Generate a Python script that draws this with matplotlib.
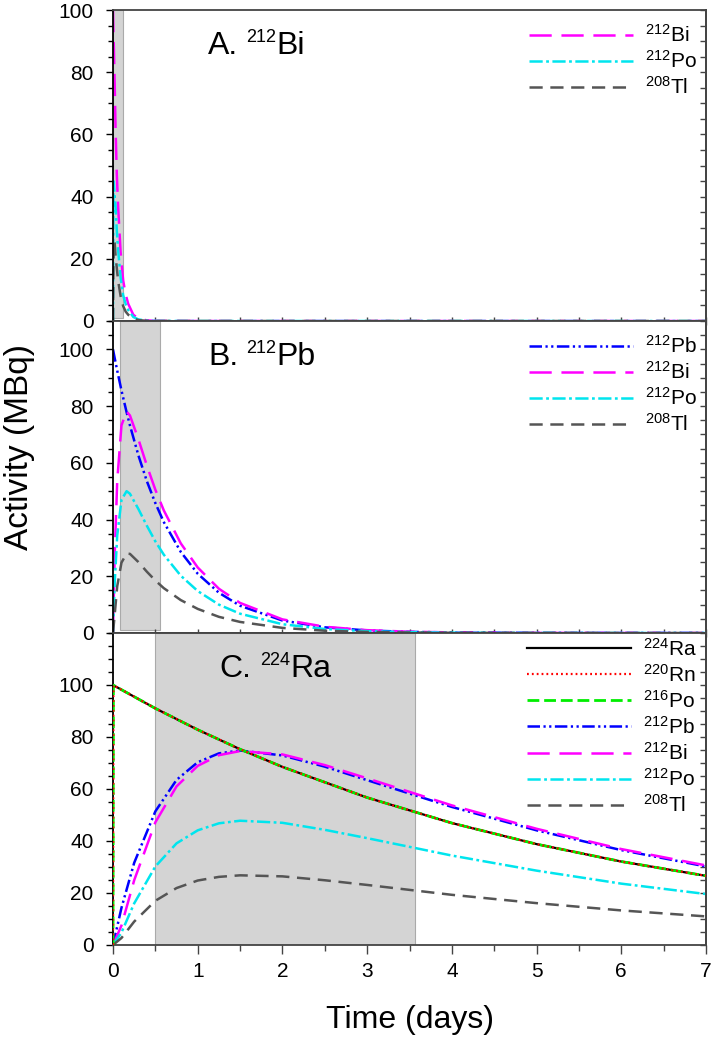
import matplotlib
matplotlib.use("Agg")
import matplotlib.pyplot as plt
from matplotlib.ticker import MultipleLocator, FixedLocator

plt.rcParams['font.family'] = ['Liberation Sans', 'DejaVu Sans']
plt.rcParams['mathtext.default'] = 'regular'
plt.rcParams['lines.scale_dashes'] = False

# ---- data: time (days) vs activity (MBq) ----
# A. 212Bi source
tA = [0, 0.005, 0.01, 0.02, 0.03, 0.045, 0.06, 0.09, 0.12, 0.15, 0.18, 0.24, 0.3, 0.4, 0.5, 1, 2, 3, 4, 5, 6, 7]
a_bi = [100, 93, 88, 76, 62, 47, 37, 22, 13, 8.5, 5.5, 2, 0.8, 0.2, 0.05, 0, 0, 0, 0, 0, 0, 0]
a_po = [0, 45, 44, 40, 37, 29, 23, 14, 8.3, 5.4, 3.5, 1.3, 0.5, 0.1, 0.03, 0, 0, 0, 0, 0, 0, 0]
a_tl = [0, 18, 26, 25, 21, 17, 13, 8, 4.8, 3, 2, 0.8, 0.3, 0.05, 0.02, 0, 0, 0, 0, 0, 0, 0]

# B. 212Pb source
tB = [0, 0.02, 0.05, 0.1, 0.16, 0.2, 0.3, 0.4, 0.5, 0.6, 0.8, 1, 1.25, 1.5, 2, 2.5, 3, 3.5, 4, 5, 6, 7]
b_pb = [100, 96.9, 92.5, 85.5, 77.9, 73.2, 62.6, 53.5, 45.8, 39.1, 28.6, 20.9, 14.2, 9.6, 4.4, 2.0, 0.9, 0.4, 0.2, 0.04, 0.01, 0]
b_bi = [0, 27.6, 53.7, 73.2, 78.1, 76.7, 68.3, 59.0, 50.5, 43.2, 31.6, 23.1, 15.6, 10.6, 4.8, 2.2, 1.0, 0.46, 0.21, 0.04, 0.01, 0]
b_po = [0, 17.7, 34.4, 46.9, 50.0, 49.1, 43.7, 37.8, 32.3, 27.6, 20.2, 14.8, 10.0, 6.8, 3.1, 1.4, 0.64, 0.29, 0.13, 0.03, 0.01, 0]
b_tl = [0, 6.5, 16.5, 24.8, 28.0, 27.9, 25.0, 21.6, 18.5, 15.8, 11.6, 8.5, 5.7, 3.9, 1.8, 0.8, 0.37, 0.17, 0.08, 0.02, 0, 0]

# C. 224Ra source
tC_par = [0, 0.005, 0.5, 1, 1.5, 2, 3, 4, 5, 6, 7]
c_ra = [100, 99.9, 91.0, 82.8, 75.3, 68.5, 56.7, 46.9, 38.8, 32.1, 26.6]
c_rn = [0, 99.9, 91.0, 82.8, 75.3, 68.5, 56.7, 46.9, 38.8, 32.1, 26.6]
c_po216 = [0, 99.9, 91.0, 82.8, 75.3, 68.5, 56.7, 46.9, 38.8, 32.1, 26.6]
tC = [0, 0.1, 0.25, 0.5, 0.75, 1, 1.25, 1.5, 2, 2.5, 3, 4, 5, 6, 7]
c_pb = [0, 14.3, 31.6, 51.4, 63.5, 70.3, 73.7, 74.8, 72.9, 68.6, 63.4, 53.1, 44.1, 36.5, 30.2]
c_bi = [0, 7.5, 24.9, 47.2, 61.0, 68.9, 73.0, 74.6, 73.3, 69.2, 64.1, 53.7, 44.7, 36.9, 30.6]
c_po = [0, 4.8, 16.0, 30.2, 39.1, 44.1, 46.8, 47.8, 47.0, 44.3, 41.1, 34.4, 28.6, 23.6, 19.6]
c_tl = [0, 2.7, 9.0, 17.0, 21.9, 24.8, 26.2, 26.8, 26.4, 24.9, 23.1, 19.3, 16.1, 13.3, 11.0]

bands = [(0.0, 0.12), (0.085, 0.555), (0.49, 3.57)]
ymaxes = [100, 110, 120]
yticks = [0, 20, 40, 60, 80, 100]
titles = [("A.", "212", "Bi"), ("B.", "212", "Pb"), ("C.", "224", "Ra")]

# line styles
sty = {
    'ra': dict(color='black', lw=1.6, ls='-'),
    'rn': dict(color='#ff0000', lw=1.6, dashes=(1.3, 2.2)),
    'po216': dict(color='#00ee00', lw=2.0, dashes=(8.5, 3.5)),
    'pb': dict(color='#0000ff', lw=1.8, dashes=(9, 2.5, 1.6, 2.5, 1.6, 2.5)),
    'bi': dict(color='#ff00ff', lw=1.8, dashes=(16, 7)),
    'po': dict(color='#00e5ee', lw=1.8, dashes=(9.5, 2.5, 2, 2.5)),
    'tl': dict(color='#555555', lw=1.8, dashes=(9.5, 5.5)),
}


def lbl(mass, el):
    return r"$^{%s}$%s" % (mass, el)


fig = plt.figure(figsize=(7.13, 10.44), dpi=100)
L, W = 113 / 713, 593 / 713
axA = fig.add_axes([L, 1 - 321 / 1044, W, 311 / 1044])
axB = fig.add_axes([L, 1 - 633 / 1044, W, 312 / 1044])
axC = fig.add_axes([L, 1 - 945 / 1044, W, 312 / 1044])
axes = [axA, axB, axC]

axA.plot(tA, a_bi, label=lbl(212, 'Bi'), **sty['bi'])
axA.plot(tA, a_po, label=lbl(212, 'Po'), **sty['po'])
axA.plot(tA, a_tl, label=lbl(208, 'Tl'), **sty['tl'])

axB.plot(tB, b_pb, label=lbl(212, 'Pb'), **sty['pb'])
axB.plot(tB, b_bi, label=lbl(212, 'Bi'), **sty['bi'])
axB.plot(tB, b_po, label=lbl(212, 'Po'), **sty['po'])
axB.plot(tB, b_tl, label=lbl(208, 'Tl'), **sty['tl'])

axC.plot(tC_par, c_ra, label=lbl(224, 'Ra'), zorder=2, **sty['ra'])
axC.plot(tC_par, c_po216, label=lbl(216, 'Po'), zorder=3, **sty['po216'])
axC.plot(tC_par, c_rn, label=lbl(220, 'Rn'), zorder=4, **sty['rn'])
axC.plot(tC, c_pb, label=lbl(212, 'Pb'), **sty['pb'])
axC.plot(tC, c_bi, label=lbl(212, 'Bi'), **sty['bi'])
axC.plot(tC, c_po, label=lbl(212, 'Po'), **sty['po'])
axC.plot(tC, c_tl, label=lbl(208, 'Tl'), **sty['tl'])

legend_tops = [0.955, 0.955, 0.985]
for i, ax in enumerate(axes):
    x0, x1 = bands[i]
    ymin_frac = 0.0 if i == 2 else 0.01
    ax.axvspan(x0, x1, ymin=ymin_frac, ymax=1, facecolor='#d4d4d4', edgecolor='#aaaaaa', lw=0.8, zorder=0)
    ax.set_xlim(0, 7)
    ax.set_ylim(0, ymaxes[i])
    ax.xaxis.set_major_locator(MultipleLocator(1))
    ax.xaxis.set_minor_locator(MultipleLocator(0.5))
    ax.yaxis.set_major_locator(FixedLocator(yticks))
    ax.yaxis.set_minor_locator(MultipleLocator(5))
    ax.tick_params(axis='y', which='major', direction='out', length=5, width=1, labelsize=15, pad=9, right=False)
    ax.tick_params(axis='y', which='minor', direction='out', length=3.5, width=1, right=False)
    if i < 2:
        ax.tick_params(axis='x', which='both', direction='inout', length=6, width=1, labelbottom=False, top=False, color='#444444')
    else:
        ax.tick_params(axis='x', which='major', direction='out', length=6.5, width=1, labelsize=15, pad=6, top=False, color='#444444')
        ax.tick_params(axis='x', which='minor', direction='out', length=4.5, width=1, top=False, color='#444444')
    for s in ['top', 'right', 'bottom']:
        ax.spines[s].set_color('#444444')
        ax.spines[s].set_linewidth(1.3)
    ax.spines['left'].set_linewidth(1.3)
    sec = ax.secondary_yaxis('right')
    sec.yaxis.set_major_locator(MultipleLocator(5))
    sec.tick_params(axis='y', direction='in', length=4, width=1, labelright=False, color='#444444')
    sec.spines['right'].set_color('#444444')
    sec.spines['right'].set_linewidth(1.3)

    # panel title with small superscript
    a, m, el = titles[i]
    t1 = ax.text(0.16 if i < 2 else 0.18, 0.835, a, transform=ax.transAxes, fontsize=23, va='bottom')
    t2 = ax.annotate(m, xy=(1, 0.52), xycoords=t1, xytext=(6, 0), textcoords='offset points', fontsize=13, va='bottom')
    ax.annotate(el, xy=(1, 0), xycoords=(t2, t1), fontsize=23, va='bottom')

    h, l = ax.get_legend_handles_labels()
    if i == 2:
        order = [0, 2, 1, 3, 4, 5, 6]
        h, l = [h[k] for k in order], [l[k] for k in order]
    ax.legend(h, l, loc='upper right', bbox_to_anchor=(0.985, legend_tops[i]), frameon=False, fontsize=15,
              handlelength=5.0, handletextpad=0.6, labelspacing=0.2, borderpad=0, borderaxespad=0)

fig.text(0.028, 0.572, "Activity (MBq)", rotation=90, ha='center', va='center', fontsize=24)
fig.text(0.575, 0.023, "Time (days)", ha='center', va='center', fontsize=23)

fig.savefig("out.png", dpi=100)
